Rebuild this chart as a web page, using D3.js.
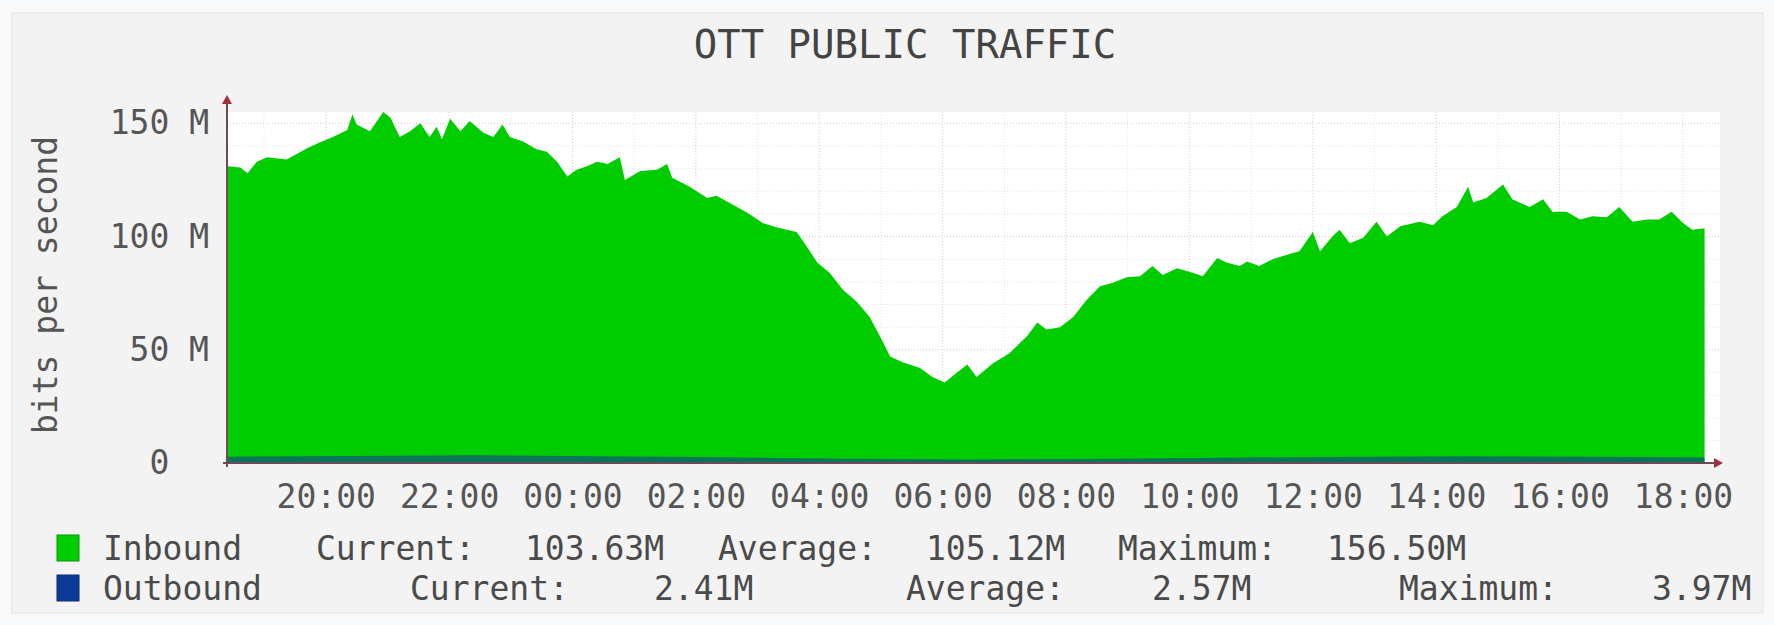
<!DOCTYPE html>
<html>
<head>
<meta charset="utf-8">
<script src="https://cdn.jsdelivr.net/npm/d3@7/dist/d3.min.js"></script>
<style>
  body { margin: 0; background: #f8f9fb; }
  text { font-family: "DejaVu Sans Mono", monospace; fill: #4a4a4a; white-space: pre; }
</style>
</head>
<body>
<script>

var width = 1774,
	height = 625;

// 24 hour window, rrdtool style
var windowStart = new Date(2024, 0, 1, 18, 24);
var windowMinutes = 1452;

// inbound traffic, minutes after windowStart -> Mbit/s
var inMinutes = [0, 13, 20, 29, 39, 58, 78, 90, 103, 117,
	122, 126, 139, 152, 159, 168, 178, 188, 197, 204,
	209, 217, 227, 236, 249, 259, 268, 275, 288, 301,
	311, 321, 331, 340, 350, 360, 370, 382, 387, 402,
	418, 428, 433, 450, 467, 476, 492, 506, 521, 535,
	554, 564, 574, 586, 599, 613, 625, 635, 645, 657,
	674, 686, 698, 710, 720, 729, 745, 761, 778, 788,
	797, 810, 823, 836, 849, 861, 875, 888, 900, 910,
	924, 939, 949, 963, 972, 985, 992, 1004, 1017, 1031,
	1043, 1056, 1063, 1075, 1082, 1092, 1105, 1118, 1128, 1141,
	1160, 1173, 1182, 1196, 1207, 1212, 1225, 1241, 1250, 1267,
	1280, 1289, 1303, 1316, 1328, 1342, 1354, 1367, 1381, 1393,
	1405, 1416, 1425, 1437];
var inMbps = [131, 130.5, 128, 133, 135, 134, 139, 141.5, 144, 147,
	154, 149.5, 146.5, 156.5, 152.5, 144, 146.5, 150, 144, 148.5,
	143, 152, 146.5, 151, 146, 144, 149.5, 144, 142, 138.5,
	137.5, 133, 126.5, 129.5, 131, 133, 132, 135, 125, 129,
	129.5, 132, 126, 122, 117, 118, 114, 110.5, 106, 104,
	102, 95.5, 88.5, 84, 76.5, 71, 64.5, 56, 47, 44.5,
	42, 38, 35.5, 40, 43.5, 38, 44, 48.5, 56, 62,
	59, 60, 64.5, 72, 78, 79.5, 82, 82.5, 87, 83,
	86, 84, 82.5, 90.5, 88.5, 87, 89, 87, 90, 92,
	93.5, 102, 93.5, 100, 103, 97, 99.5, 106.5, 100, 104.5,
	106.5, 105, 109, 113, 122, 115, 117, 123, 116.5, 113,
	116.5, 111, 111, 107.5, 109, 108.5, 113, 106.5, 107.5, 107.5,
	111, 106, 103, 103.63];

// outbound traffic
var outMinutes = [0, 120, 240, 360, 480, 600, 720, 840, 960, 1080, 1200, 1320, 1437];
var outMbps = [2.8, 3.1, 3.4, 3.0, 2.5, 1.9, 1.5, 1.8, 2.3, 2.7, 3.0, 2.8, 2.41];

var yTicks = [0, 50, 100, 150];
var yMax = 155;

var title = "OTT PUBLIC TRAFFIC";
var yTitle = "bits per second";
var legendNames = ["Inbound", "Outbound"];
var legendColors = ["#00cc00", "#0b3a96"];
var legendStats = [
	["Current:", "103.63M", "Average:", "105.12M", "Maximum:", "156.50M"],
	["Current:", "2.41M", "Average:", "2.57M", "Maximum:", "3.97M"]
];

var plotLeft = 227, plotRight = 1720, plotTop = 112, plotBottom = 463;

function toDate(m) { return new Date(windowStart.getTime() + m * 60000); }

var x = d3.scaleTime()
	.domain([windowStart, toDate(windowMinutes)])
	.range([plotLeft, plotRight]);

var y = d3.scaleLinear()
	.domain([0, yMax])
	.range([plotBottom, plotTop]);

var svg = d3.select("body").append("svg")
	.attr("width", width)
	.attr("height", height);

svg.append("rect")
	.attr("x", 12).attr("y", 13)
	.attr("width", 1751).attr("height", 600)
	.attr("fill", "#f3f3f3")
	.attr("stroke", "#e4e4e4");

// canvas
svg.append("rect")
	.attr("x", plotLeft).attr("y", plotTop)
	.attr("width", plotRight - plotLeft).attr("height", plotBottom - plotTop)
	.attr("fill", "#ffffff");

// grid
var grid = svg.append("g");
grid.selectAll("line.h")
	.data(y.ticks(15))
  .enter().append("line")
	.attr("x1", plotLeft).attr("x2", plotRight)
	.attr("y1", function(d) { return y(d); })
	.attr("y2", function(d) { return y(d); })
	.attr("stroke", function(d) { return d % 50 === 0 ? "#dcc8c8" : "#e4e4e4"; })
	.attr("stroke-dasharray", "1,2");

grid.selectAll("line.v")
	.data(x.ticks(d3.timeHour.every(1)))
  .enter().append("line")
	.attr("y1", plotTop).attr("y2", plotBottom)
	.attr("x1", function(d) { return x(d); })
	.attr("x2", function(d) { return x(d); })
	.attr("stroke", function(d) { return d.getHours() % 2 === 0 ? "#dcc8c8" : "#e4e4e4"; })
	.attr("stroke-dasharray", "1,2");

var inData = inMinutes.map(function(m, i) { return { t: toDate(m), v: inMbps[i] }; });
var outData = outMinutes.map(function(m, i) { return { t: toDate(m), v: outMbps[i] }; });

var area = d3.area()
	.x(function(d) { return x(d.t); })
	.y0(y(0))
	.y1(function(d) { return y(Math.min(d.v, yMax)); });

svg.append("path")
	.datum(inData)
	.attr("d", area)
	.attr("fill", legendColors[0]);

svg.append("path")
	.datum(outData)
	.attr("d", area)
	.attr("fill", legendColors[1])
	.attr("fill-opacity", 0.6);

// axes
var yAxis = svg.append("g")
	.attr("transform", "translate(" + plotLeft + ",0)")
	.call(d3.axisLeft(y).tickValues(yTicks).tickSize(0).tickPadding(18)
		.tickFormat(function(d) { return d ? d + " M" : "0  "; }));
yAxis.select(".domain").remove();
yAxis.selectAll("text")
	.attr("font-family", "DejaVu Sans Mono")
	.attr("font-size", 33)
	.style("fill", "#555");

var xAxis = svg.append("g")
	.attr("transform", "translate(0," + plotBottom + ")")
	.call(d3.axisBottom(x).ticks(d3.timeHour.every(2)).tickSize(0).tickPadding(22)
		.tickFormat(d3.timeFormat("%H:%M")));
xAxis.select(".domain").remove();
xAxis.selectAll("text")
	.attr("font-family", "DejaVu Sans Mono")
	.attr("font-size", 33)
	.style("fill", "#555");

// axis lines with arrows
svg.append("line")
	.attr("x1", plotLeft).attr("x2", plotLeft)
	.attr("y1", plotBottom + 4).attr("y2", plotTop - 10)
	.attr("stroke", "#6b4a5a").attr("stroke-width", 2);
svg.append("line")
	.attr("x1", plotLeft - 4).attr("x2", plotRight - 4)
	.attr("y1", plotBottom).attr("y2", plotBottom)
	.attr("stroke", "#6b4a5a").attr("stroke-width", 2);
svg.append("path")
	.attr("d", "M" + (plotLeft - 5) + "," + (plotTop - 8) + " L" + plotLeft + "," + (plotTop - 17) + " L" + (plotLeft + 5) + "," + (plotTop - 8) + "Z")
	.attr("fill", "#a03040");
svg.append("path")
	.attr("d", "M" + (plotRight - 6) + "," + (plotBottom - 5) + " L" + (plotRight + 3) + "," + plotBottom + " L" + (plotRight - 6) + "," + (plotBottom + 5) + "Z")
	.attr("fill", "#a03040");

// titles
svg.append("text")
	.attr("x", 905).attr("y", 58)
	.attr("text-anchor", "middle")
	.attr("font-size", 39)
	.style("fill", "#444")
	.text(title);

svg.append("text")
	.attr("transform", "translate(45,285) rotate(-90)")
	.attr("text-anchor", "middle")
	.attr("dy", "0.35em")
	.attr("font-size", 33)
	.style("fill", "#555")
	.text(yTitle);

// legend
var legendRowY = [548, 588];
var legendColX = [
	[316, 525, 718, 926, 1118, 1327],
	[410, 654, 906, 1152, 1399, 1652]
];

legendNames.forEach(function(name, i) {
	var row = svg.append("g");
	row.append("rect")
		.attr("x", 57).attr("y", legendRowY[i] - 13)
		.attr("width", 22).attr("height", 26)
		.attr("fill", legendColors[i])
		.attr("stroke", d3.color(legendColors[i]).darker(0.8));
	row.append("text")
		.attr("x", 103).attr("y", legendRowY[i])
		.attr("dy", "0.36em")
		.attr("font-size", 33)
		.text(name);
	row.selectAll("text.stat")
		.data(legendStats[i])
	  .enter().append("text")
		.attr("x", function(d, j) { return legendColX[i][j]; })
		.attr("y", legendRowY[i])
		.attr("dy", "0.36em")
		.attr("font-size", 33)
		.text(function(d) { return d; });
});
</script>
</body>
</html>
